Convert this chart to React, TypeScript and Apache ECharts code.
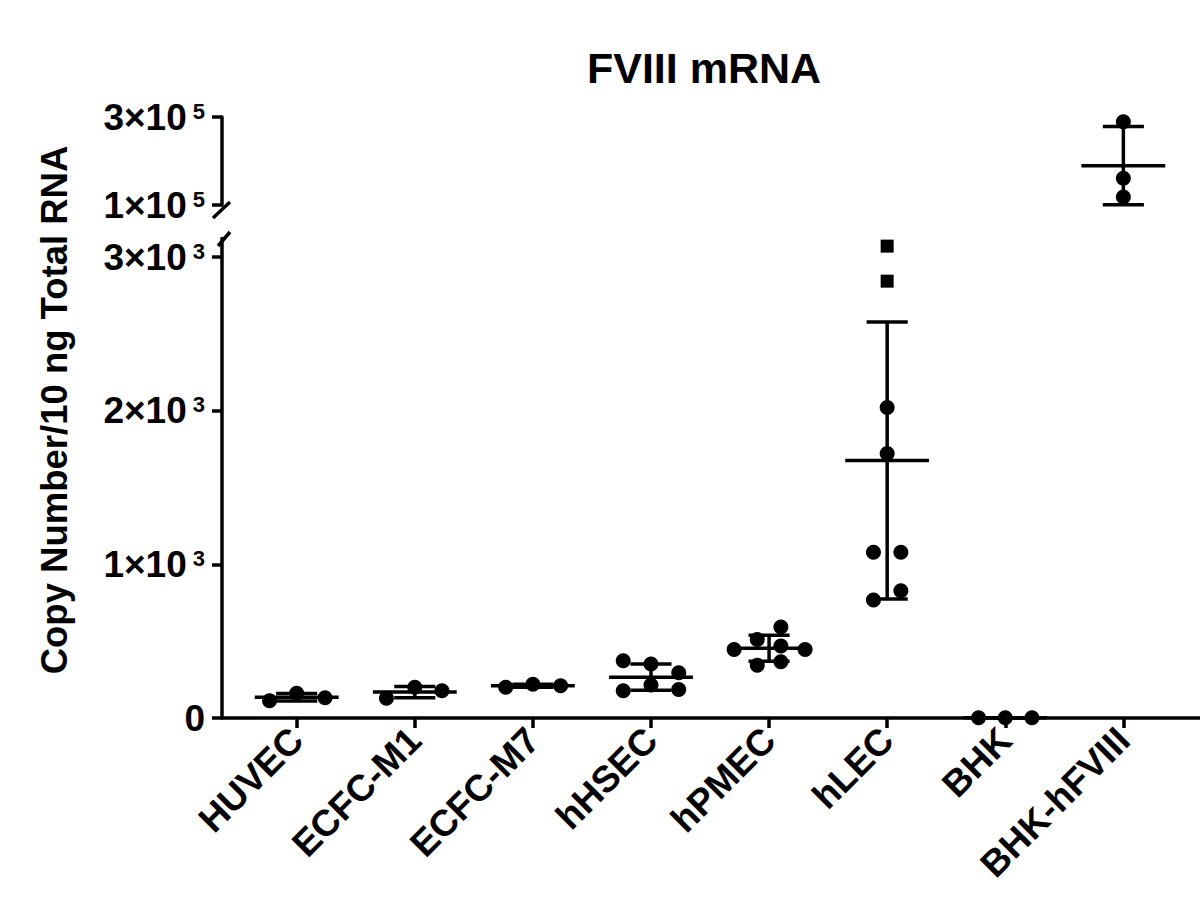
import React, { useEffect, useRef } from 'react';
import * as echarts from 'echarts';

// ---------- data ----------
const categories = ['HUVEC', 'ECFC-M1', 'ECFC-M7', 'hHSEC', 'hPMEC', 'hLEC', 'BHK', 'BHK-hFVIII'];

const huvec = [112, 161, 132];
const ecfcM1 = [128, 200, 178];
const ecfcM7 = [200, 219, 210];
const hHSEC = [372, 351, 294, 177, 214, 186];
const hPMEC = [446, 511, 593, 468, 446, 344, 366];
const hLECcircles = [2021, 1722, 1078, 1078, 828, 768];
const hLECsquares = [3071, 2843];
const bhk = [2, 1, 2];
const bhkHFVIII = [289000, 161000, 118000];

// horizontal spread of the dots inside each column (category units)
const huvecJitter = [-0.23, 0, 0.24];
const ecfcM1Jitter = [-0.24, 0, 0.23];
const ecfcM7Jitter = [-0.23, 0, 0.235];
const hHSECJitter = [-0.235, 0, 0.235, -0.235, 0, 0.235];
const hPMECJitter = [-0.296, -0.1, 0.1, 0.1, 0.305, -0.1, 0.1];
const hLECcirclesJitter = [0, 0, -0.116, 0.116, 0.116, -0.116];
const hLECsquaresJitter = [0, 0];
const bhkJitter = [-0.226, 0, 0.226];
const bhkHFVIIIJitter = [0, 0, 0];

const lowerTicks = [0, 1000, 2000, 3000];
const upperTicks = [100000, 300000];
const xTicks = [0, 1, 2, 3, 4, 5, 6, 7];

const FONT = '"Liberation Sans", Arial, Helvetica, sans-serif';
const LW = 3.5;

const mean = (a: number[]) => a.reduce((s, v) => s + v, 0) / a.length;
const sd = (a: number[]) => {
  const m = mean(a);
  return Math.sqrt(a.reduce((s, v) => s + (v - m) * (v - m), 0) / (a.length - 1));
};

const lowerGroups: { vals: number[]; jit: number[] }[] = [
  { vals: huvec, jit: huvecJitter },
  { vals: ecfcM1, jit: ecfcM1Jitter },
  { vals: ecfcM7, jit: ecfcM7Jitter },
  { vals: hHSEC, jit: hHSECJitter },
  { vals: hPMEC, jit: hPMECJitter },
  { vals: hLECcircles, jit: hLECcirclesJitter },
  { vals: bhk, jit: bhkJitter },
];

const fmtY = (v: number) => {
  if (v === 0) return '{b|0}';
  const e = Math.floor(Math.log10(v) + 1e-9);
  const m = Math.round(v / Math.pow(10, e));
  return `{b|${m}×10}{s|${e}}`;
};

const richY = {
  b: { fontSize: 37, fontWeight: 'bold', fontFamily: FONT, color: '#000', lineHeight: 40 },
  s: {
    fontSize: 22,
    fontWeight: 'bold',
    fontFamily: FONT,
    color: '#000',
    verticalAlign: 'top',
    lineHeight: 22,
    padding: [3, 0, 0, 6],
  },
};

export default function App() {
  const ref = useRef<HTMLDivElement>(null);

  useEffect(() => {
    if (!ref.current) return;
    const chart = echarts.init(ref.current, undefined, { renderer: 'svg' });

    const circlePts: number[][] = [];
    lowerGroups.forEach((g, i) => g.vals.forEach((v, k) => circlePts.push([i + g.jit[k], v])));
    const squarePts = hLECsquares.map((v, k) => [5 + hLECsquaresJitter[k], v]);
    const upperPts = bhkHFVIII.map((v, k) => [7 + bhkHFVIIIJitter[k], v]);

    const allLower = lowerGroups.map((g) => g.vals.slice());
    allLower[5] = hLECcircles.concat(hLECsquares);
    const lowerStats = allLower.map((a, i) => [i, mean(a), sd(a)]);
    const upperStats = [[7, mean(bhkHFVIII), sd(bhkHFVIII)]];

    const renderStats = (params: any, api: any) => {
      const i = api.value(0);
      const m = api.value(1);
      const s = api.value(2);
      const c = (x: number, y: number) => api.coord([x, y]);
      const segs = [
        [c(i - 0.355, m), c(i + 0.355, m)],
        [c(i, m - s), c(i, m + s)],
        [c(i - 0.174, m + s), c(i + 0.174, m + s)],
        [c(i - 0.174, m - s), c(i + 0.174, m - s)],
      ];
      return {
        type: 'group',
        children: segs.map(([a, b]) => ({
          type: 'line',
          shape: { x1: a[0], y1: a[1], x2: b[0], y2: b[1] },
          style: { stroke: '#000', lineWidth: LW },
        })),
      };
    };

    const xMin = -0.6325;
    const xMax = 7.649;

    const dot = { color: '#000', opacity: 1 };

    const option: any = {
      animation: false,
      backgroundColor: '#fff',
      grid: [
        { left: 222, right: 0, top: 238.6, bottom: 191 },
        { left: 222, right: 0, top: 117, height: 88 },
      ],
      xAxis: [
        {
          gridIndex: 0,
          type: 'value',
          min: xMin,
          max: xMax,
          splitLine: { show: false },
          axisLine: { show: true, onZero: false, lineStyle: { color: '#000', width: LW } },
          axisTick: { show: true, customValues: xTicks, length: 10, lineStyle: { color: '#000', width: LW } },
          axisLabel: {
            customValues: xTicks,
            formatter: (v: number) => categories[Math.round(v)],
            rotate: 45,
            margin: 16,
            fontSize: 37,
            fontWeight: 'bold',
            fontFamily: FONT,
            color: '#000',
          },
        },
        { gridIndex: 1, type: 'value', min: xMin, max: xMax, show: false },
      ],
      yAxis: [
        {
          gridIndex: 0,
          type: 'value',
          min: 0,
          max: 3120,
          splitLine: { show: false },
          axisLine: { show: true, onZero: false, lineStyle: { color: '#000', width: LW } },
          axisTick: { show: true, customValues: lowerTicks, length: 10, lineStyle: { color: '#000', width: LW } },
          axisLabel: { customValues: lowerTicks, formatter: fmtY, margin: 17, rich: richY },
        },
        {
          gridIndex: 1,
          type: 'value',
          min: 100000,
          max: 300000,
          splitLine: { show: false },
          axisLine: { show: true, onZero: false, lineStyle: { color: '#000', width: LW } },
          axisTick: { show: true, customValues: upperTicks, length: 10, lineStyle: { color: '#000', width: LW } },
          axisLabel: { customValues: upperTicks, formatter: fmtY, margin: 17, rich: richY },
        },
      ],
      series: [
        {
          type: 'custom',
          xAxisIndex: 0,
          yAxisIndex: 0,
          renderItem: renderStats,
          data: lowerStats,
          encode: { x: 0, y: 1 },
          z: 2,
        },
        {
          type: 'custom',
          xAxisIndex: 1,
          yAxisIndex: 1,
          renderItem: renderStats,
          data: upperStats,
          encode: { x: 0, y: 1 },
          z: 2,
        },
        {
          type: 'scatter',
          xAxisIndex: 0,
          yAxisIndex: 0,
          symbol: 'circle',
          symbolSize: 15,
          itemStyle: dot,
          data: circlePts,
          z: 3,
        },
        {
          type: 'scatter',
          xAxisIndex: 0,
          yAxisIndex: 0,
          symbol: 'rect',
          symbolSize: 13,
          itemStyle: dot,
          data: squarePts,
          z: 3,
        },
        {
          type: 'scatter',
          xAxisIndex: 1,
          yAxisIndex: 1,
          symbol: 'circle',
          symbolSize: 15,
          itemStyle: dot,
          data: upperPts,
          z: 3,
        },
      ],
      graphic: [
        {
          type: 'text',
          x: 704,
          y: 68,
          style: {
            text: 'FVIII mRNA',
            fontSize: 43,
            fontWeight: 'bold',
            fontFamily: FONT,
            fill: '#000',
            textAlign: 'center',
            textVerticalAlign: 'middle',
          },
        },
        {
          type: 'text',
          x: 54,
          y: 410,
          rotation: Math.PI / 2,
          style: {
            text: 'Copy Number/10 ng Total RNA',
            fontSize: 36.5,
            fontWeight: 'bold',
            fontFamily: FONT,
            fill: '#000',
            textAlign: 'center',
            textVerticalAlign: 'middle',
          },
        },
        {
          type: 'line',
          shape: { x1: 213, y1: 218, x2: 230, y2: 202 },
          style: { stroke: '#000', lineWidth: LW },
        },
        {
          type: 'line',
          shape: { x1: 218, y1: 246, x2: 230, y2: 232 },
          style: { stroke: '#000', lineWidth: LW },
        },
      ],
    };

    chart.setOption(option);
    return () => chart.dispose();
  }, []);

  return (
    <div
      ref={ref}
      style={{ position: 'fixed', left: 0, top: 0, width: 1200, height: 909, background: '#fff' }}
    />
  );
}
